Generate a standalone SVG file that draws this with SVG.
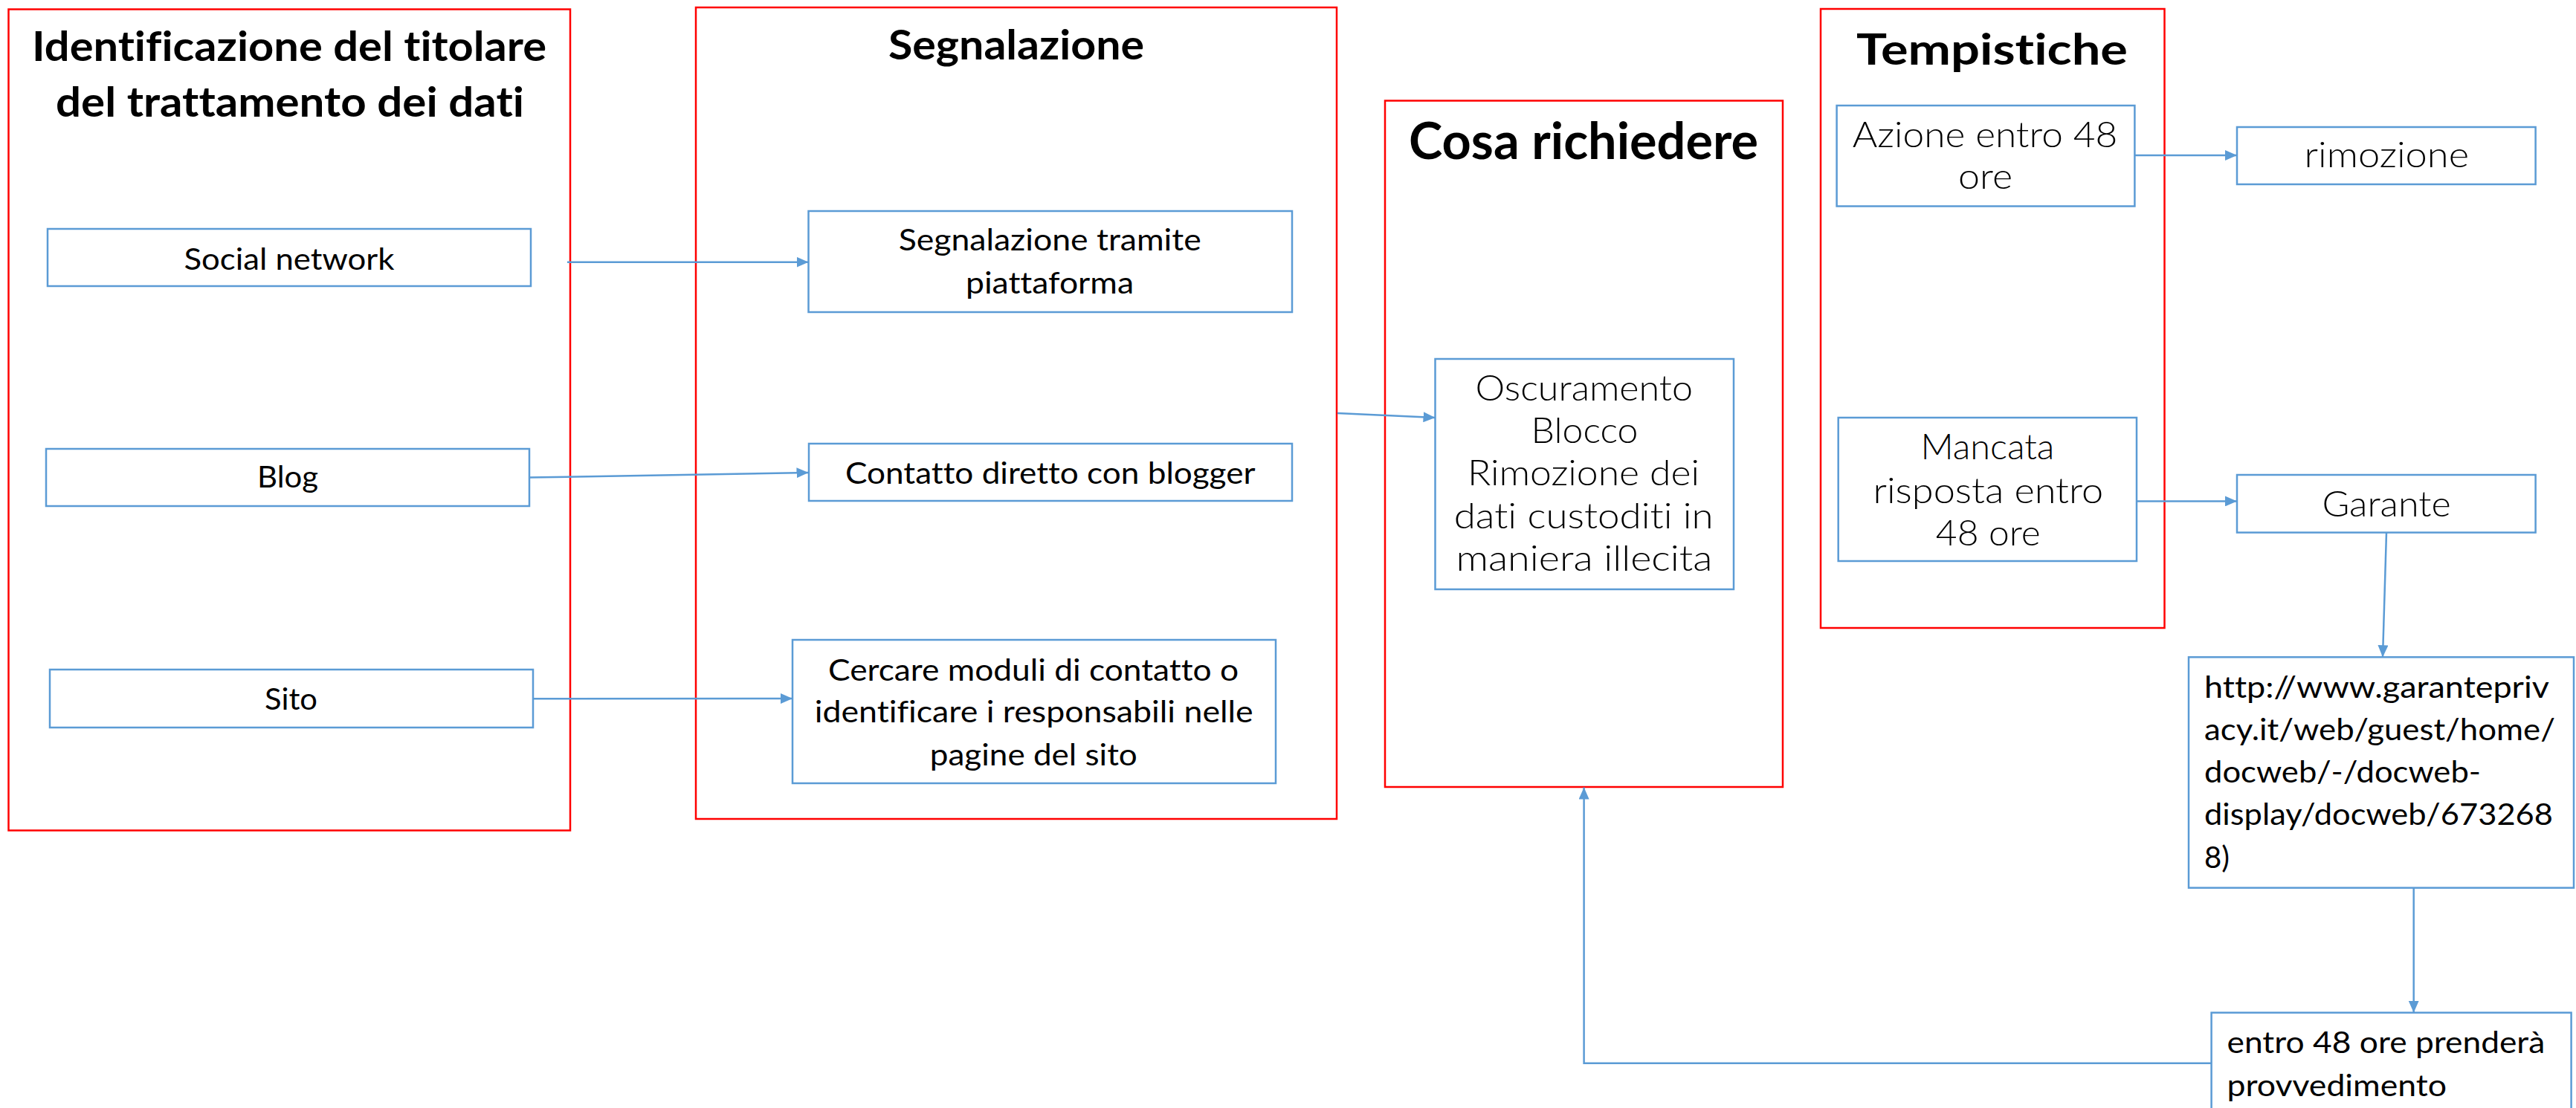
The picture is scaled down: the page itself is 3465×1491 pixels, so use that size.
<svg xmlns="http://www.w3.org/2000/svg" width="3465" height="1491" viewBox="0 0 3465 1491">
<style>
.grp{fill:#fff;stroke:#FF0000;stroke-width:2.5}
.nd{fill:#fff;stroke:#5B9BD5;stroke-width:2.5}
.t{font-family:Lato,"Liberation Sans",sans-serif;fill:#000;font-variant-ligatures:none;font-feature-settings:"liga" 0,"clig" 0}
.b{font-weight:700}
.r{font-weight:400;font-size:41px}
.l{font-weight:300;font-size:47px}
.c{fill:none;stroke:#5B9BD5;stroke-width:2.5}
</style>
<defs>
<marker id="arr" viewBox="0 0 16 14" refX="16" refY="7" markerWidth="16" markerHeight="14" markerUnits="userSpaceOnUse" orient="auto">
<path d="M0,0 L16,7 L0,14 z" fill="#5B9BD5"/>
</marker>
</defs>
<rect width="3465" height="1491" fill="#fff"/>

<g id="grp-identificazione">
<rect class="grp" x="11.5" y="12.5" width="755.5" height="1105"/>
<text class="t b" font-size="56" x="43" y="82" textLength="692" lengthAdjust="spacingAndGlyphs">Identificazione del titolare</text>
<text class="t b" font-size="56" x="75" y="157" textLength="630" lengthAdjust="spacingAndGlyphs">del trattamento dei dati</text>
</g>
<g id="grp-segnalazione">
<rect class="grp" x="936" y="10" width="862" height="1092"/>
<text class="t b" font-size="56" x="1195" y="79.5" textLength="344" lengthAdjust="spacingAndGlyphs">Segnalazione</text>
</g>
<g id="grp-cosa">
<rect class="grp" x="1863" y="135.5" width="535" height="923.5"/>
<text class="t b" font-size="68" x="1895" y="213.5" textLength="470" lengthAdjust="spacingAndGlyphs">Cosa richiedere</text>
</g>
<g id="grp-tempistiche">
<rect class="grp" x="2449" y="12" width="462.5" height="833"/>
<text class="t b" font-size="58" x="2497" y="86.7" textLength="365" lengthAdjust="spacingAndGlyphs">Tempistiche</text>
</g>

<g id="social">
<rect class="nd" x="64" y="308" width="650" height="77"/>
<text class="t r" x="247.4" y="362.5" textLength="283" lengthAdjust="spacingAndGlyphs">Social network</text>
</g>
<g id="blog">
<rect class="nd" x="62" y="604" width="650" height="77"/>
<text class="t r" x="346" y="656.4" textLength="82" lengthAdjust="spacingAndGlyphs">Blog</text>
</g>
<g id="sito">
<rect class="nd" x="67" y="901" width="650" height="78"/>
<text class="t r" x="356" y="955" textLength="71" lengthAdjust="spacingAndGlyphs">Sito</text>
</g>
<g id="piattaforma">
<rect class="nd" x="1087.5" y="284" width="650.5" height="136"/>
<text class="t r" x="1208.7" y="337" textLength="407" lengthAdjust="spacingAndGlyphs">Segnalazione tramite</text>
<text class="t r" x="1299" y="395" textLength="226" lengthAdjust="spacingAndGlyphs">piattaforma</text>
</g>
<g id="contatto">
<rect class="nd" x="1088" y="597" width="650" height="77"/>
<text class="t r" x="1137" y="651.4" textLength="551.5" lengthAdjust="spacingAndGlyphs">Contatto diretto con blogger</text>
</g>
<g id="cercare">
<rect class="nd" x="1066" y="861" width="650" height="193"/>
<text class="t r" x="1114" y="915.5" textLength="552" lengthAdjust="spacingAndGlyphs">Cercare moduli di contatto o</text>
<text class="t r" x="1095.7" y="972" textLength="590" lengthAdjust="spacingAndGlyphs">identificare i responsabili nelle</text>
<text class="t r" x="1250.8" y="1030" textLength="279" lengthAdjust="spacingAndGlyphs">pagine del sito</text>
</g>
<g id="oscuramento">
<rect class="nd" x="1930.5" y="483" width="401.5" height="310"/>
<text class="t l" x="1984.5" y="538.5" textLength="292.5" lengthAdjust="spacingAndGlyphs">Oscuramento</text>
<text class="t l" x="2059.6" y="596" textLength="143.8" lengthAdjust="spacingAndGlyphs">Blocco</text>
<text class="t l" x="1974" y="653" textLength="312" lengthAdjust="spacingAndGlyphs">Rimozione dei</text>
<text class="t l" x="1955.7" y="710.7" textLength="349" lengthAdjust="spacingAndGlyphs">dati custoditi in</text>
<text class="t l" x="1958.5" y="768" textLength="345" lengthAdjust="spacingAndGlyphs">maniera illecita</text>
</g>
<g id="azione">
<rect class="nd" x="2470.6" y="142" width="400.8" height="135.5"/>
<text class="t l" x="2491.7" y="197.9" textLength="356.6" lengthAdjust="spacingAndGlyphs">Azione entro 48</text>
<text class="t l" x="2634" y="253.7" textLength="73" lengthAdjust="spacingAndGlyphs">ore</text>
</g>
<g id="mancata">
<rect class="nd" x="2472.7" y="562" width="401.3" height="193"/>
<text class="t l" x="2583.4" y="618" textLength="180" lengthAdjust="spacingAndGlyphs">Mancata</text>
<text class="t l" x="2519.5" y="676.5" textLength="309.7" lengthAdjust="spacingAndGlyphs">risposta entro</text>
<text class="t l" x="2603.8" y="733.5" textLength="141" lengthAdjust="spacingAndGlyphs">48 ore</text>
</g>
<g id="rimozione">
<rect class="nd" x="3009" y="171" width="401.6" height="77"/>
<text class="t l" x="3099.6" y="225" textLength="221.4" lengthAdjust="spacingAndGlyphs">rimozione</text>
</g>
<g id="garante">
<rect class="nd" x="3009" y="639" width="401.6" height="77.6"/>
<text class="t l" x="3123.4" y="695" textLength="173.2" lengthAdjust="spacingAndGlyphs">Garante</text>
</g>
<g id="url">
<rect class="nd" x="2944" y="884.3" width="518" height="310.4"/>
<text class="t r" font-size="42" x="2965" y="939" textLength="464" lengthAdjust="spacingAndGlyphs">http://www.garantepriv</text>
<text class="t r" font-size="42" x="2965" y="996" textLength="472" lengthAdjust="spacingAndGlyphs">acy.it/web/guest/home/</text>
<text class="t r" font-size="42" x="2965" y="1053.3" textLength="372" lengthAdjust="spacingAndGlyphs">docweb/-/docweb-</text>
<text class="t r" font-size="42" x="2965" y="1110" textLength="469" lengthAdjust="spacingAndGlyphs">display/docweb/673268</text>
<text class="t r" font-size="42" x="2965" y="1168.3" textLength="34" lengthAdjust="spacingAndGlyphs">8)</text>
</g>
<g id="entro">
<rect class="nd" x="2974.6" y="1362.7" width="484" height="145"/>
<text class="t r" x="2995.5" y="1416.7" textLength="427.7" lengthAdjust="spacingAndGlyphs">entro 48 ore prenderà</text>
<text class="t r" x="2995.5" y="1475" textLength="295.5" lengthAdjust="spacingAndGlyphs">provvedimento</text>
</g>

<g id="connectors">
<path class="c" d="M763,352.7 L1087.5,352.7" marker-end="url(#arr)"/>
<path class="c" d="M712,642.6 L1087.5,636" marker-end="url(#arr)"/>
<path class="c" d="M717,940.3 L1066,940" marker-end="url(#arr)"/>
<path class="c" d="M1799,556 L1930.5,562" marker-end="url(#arr)"/>
<path class="c" d="M2871.4,209 L3009,209" marker-end="url(#arr)"/>
<path class="c" d="M2874,674.4 L3009,674.4" marker-end="url(#arr)"/>
<path class="c" d="M3210,716.6 L3205,884.3" marker-end="url(#arr)"/>
<path class="c" d="M3246.7,1194.7 L3246.7,1362.7" marker-end="url(#arr)"/>
<path class="c" d="M2974.6,1430.7 L2130.6,1430.7 L2130.6,1059.5" marker-end="url(#arr)"/>
</g>
</svg>
